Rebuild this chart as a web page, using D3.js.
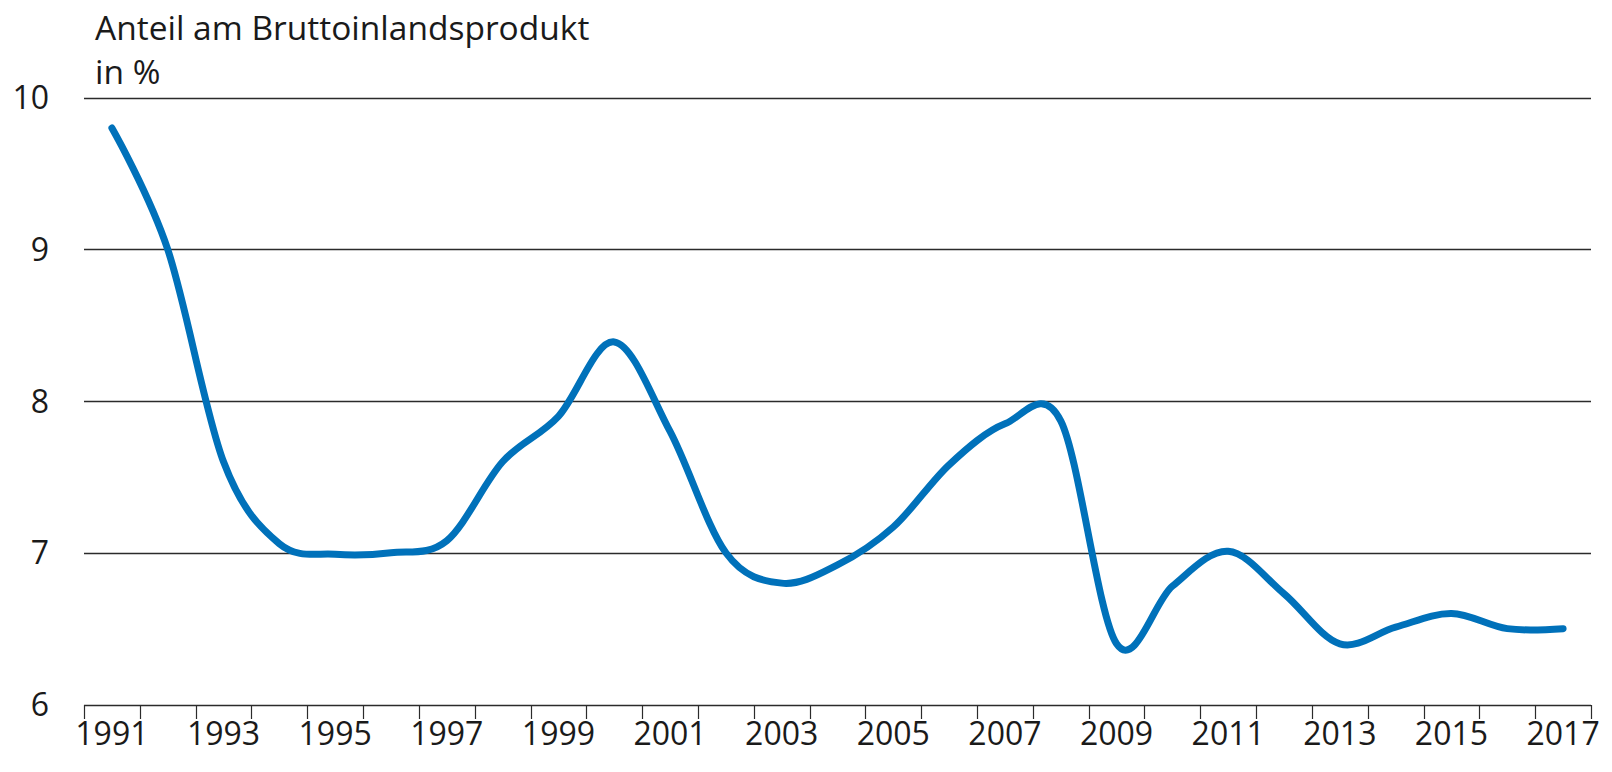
<!DOCTYPE html>
<html>
  <head>
    <meta charset="utf-8">
    <title>Anteil am Bruttoinlandsprodukt</title>
    <script src="https://cdnjs.cloudflare.com/ajax/libs/d3/7.8.5/d3.min.js" charset="utf-8"></script>
    <style>
      body { margin: 0; background: #fff; }
      text { font-family: "Open Sans", Lato, sans-serif; fill: #1a1a1a; }
    </style>
  </head>

  <body>
    <div id="chart"></div>
    <script>

// values
var years = d3.range(1991, 2018);
var share = [9.80, 9.00, 7.60, 7.06, 6.99, 7.00, 7.08, 7.60, 7.90, 8.39,
             7.80, 7.00, 6.80, 6.92, 7.17, 7.58, 7.85, 7.87, 6.40, 6.78,
             7.01, 6.73, 6.40, 6.51, 6.60, 6.50, 6.50];
var yTicks = [6, 7, 8, 9, 10];
var xLabels = years.filter(function(y) { return y % 2 == 1; });
var titleLines = ["Anteil am Bruttoinlandsprodukt", "in %"];

window.addEventListener("load", run);

function run () {
    var W = 1612, H = 772;
    var left = 84, right = 1591, top = 97.7, bottom = 704.5;

    var svg = d3.select("#chart").append("svg")
        .attr("width", W)
        .attr("height", H);

    var x = d3.scaleBand().domain(years).range([left, right]);
    var y = d3.scaleLinear().domain([6, 10]).range([bottom, top]);
    var cx = function(yr) { return x(yr) + x.bandwidth() / 2; };

    // title
    svg.selectAll(".title")
        .data(titleLines)
      .enter().append("text")
        .attr("class", "title")
        .attr("x", 95)
        .attr("y", function(d, i) { return 40 + i * 44; })
        .style("font-size", "33.5px")
        .text(function(d) { return d; });

    // grid lines
    svg.selectAll(".grid")
        .data(yTicks)
      .enter().append("line")
        .attr("x1", left)
        .attr("x2", right)
        .attr("y1", function(d) { return Math.round(y(d)) + 0.5; })
        .attr("y2", function(d) { return Math.round(y(d)) + 0.5; })
        .style("stroke", "#2b2b2b")
        .style("stroke-width", 1.4);

    // y labels
    svg.selectAll(".ylab")
        .data(yTicks)
      .enter().append("text")
        .attr("x", 49)
        .attr("y", function(d) { return y(d); })
        .attr("dy", "0.36em")
        .style("text-anchor", "end")
        .style("font-size", "32px")
        .text(function(d) { return d; });

    // x ticks on band edges
    var edges = years.map(function(yr) { return x(yr); }).concat([x.range()[1]]);
    svg.selectAll(".xtick")
        .data(edges)
      .enter().append("line")
        .attr("x1", function(d) { return Math.round(d) + 0.5; })
        .attr("x2", function(d) { return Math.round(d) + 0.5; })
        .attr("y1", Math.round(y(6)))
        .attr("y2", Math.round(y(6)) + 14)
        .style("stroke", "#2b2b2b")
        .style("stroke-width", 1.2);

    // x labels
    svg.selectAll(".xlab")
        .data(xLabels)
      .enter().append("text")
        .attr("x", function(d) { return cx(d); })
        .attr("y", 745)
        .style("text-anchor", "middle")
        .style("font-size", "32px")
        .text(function(d) { return d; });

    // line
    var line = d3.line()
        .x(function(d, i) { return cx(years[i]); })
        .y(function(d) { return y(d); })
        .curve(d3.curveCardinal.tension(0));

    svg.append("path")
        .datum(share)
        .attr("d", line)
        .style("fill", "none")
        .style("stroke", "#0071ba")
        .style("stroke-width", 7)
        .style("stroke-linecap", "round")
        .style("stroke-linejoin", "round");
}

    </script>
  </body>
</html>
